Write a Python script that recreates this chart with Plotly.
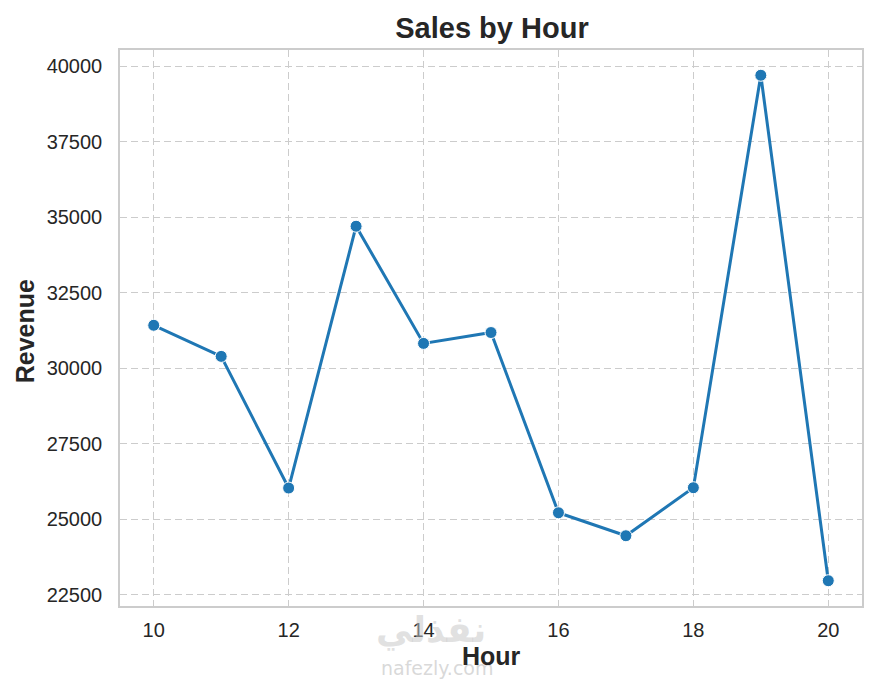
import plotly.graph_objects as go

hours = [10, 11, 12, 13, 14, 15, 16, 17, 18, 19, 20]
revenue = [31420, 30390, 26030, 34700, 30820, 31180, 25210, 24450, 26040, 39700, 22960]

y_ticks = [22500, 25000, 27500, 30000, 32500, 35000, 37500, 40000]
x_ticks = [10, 12, 14, 16, 18, 20]

blue = "#1f77b4"
grid = "#cccccc"
ink = "#262626"
font = "Liberation Sans, Arial"

fig = go.Figure()
fig.add_trace(go.Scatter(
    x=hours, y=revenue, mode="lines+markers",
    line=dict(color=blue, width=3),
    marker=dict(size=12, color=blue, line=dict(color="white", width=1)),
    showlegend=False,
))

# pad the ranges by 5% like matplotlib does
pad_y = (max(revenue) - min(revenue)) * 0.05
pad_x = (max(hours) - min(hours)) * 0.05

axis_common = dict(
    showgrid=True, gridcolor=grid, gridwidth=1.2, griddash="7px,4px",
    showline=True, linecolor=grid, linewidth=1.5, mirror=True,
    zeroline=False, ticks="outside", tickcolor="rgba(0,0,0,0)",
    tickfont=dict(family=font, size=20, color=ink),
)

fig.update_xaxes(range=[min(hours) - pad_x, max(hours) + pad_x], tickvals=x_ticks,
                 ticklen=5, **axis_common)
fig.update_yaxes(range=[min(revenue) - pad_y, max(revenue) + pad_y], tickvals=y_ticks,
                 tickformat="d", ticklen=12, **axis_common)

fig.update_layout(
    width=868, height=674,
    margin=dict(l=112, r=12, t=42, b=76),
    paper_bgcolor="white", plot_bgcolor="white",
    title=dict(text="<b>Sales by Hour</b>", x=0.5576, xanchor="center", y=0.970, yanchor="middle",
               font=dict(family=font, size=29, color=ink)),
)

# watermark (drawn under the axis titles)
fig.add_annotation(text="<b>نفذلي</b>", xref="paper", yref="paper", x=0.419, y=-0.085,
                   showarrow=False, font=dict(family="DejaVu Sans", size=36, color="rgba(200,200,200,0.55)"))
fig.add_annotation(text="nafezly.com", xref="paper", yref="paper", x=0.427, y=-0.134,
                   showarrow=False, font=dict(family="DejaVu Sans", size=19, color="rgba(200,200,200,0.7)"))

# axis titles
fig.add_annotation(text="<b>Hour</b>", xref="paper", yref="paper", x=0.5, y=-0.09,
                   xanchor="center", yanchor="middle", showarrow=False,
                   font=dict(family=font, size=25, color=ink))
fig.add_annotation(text="<b>Revenue</b>", xref="paper", yref="paper", x=-0.1277, y=0.4946,
                   xanchor="center", yanchor="middle", textangle=-90, showarrow=False,
                   font=dict(family=font, size=25, color=ink))

fig.write_html("out.html")
